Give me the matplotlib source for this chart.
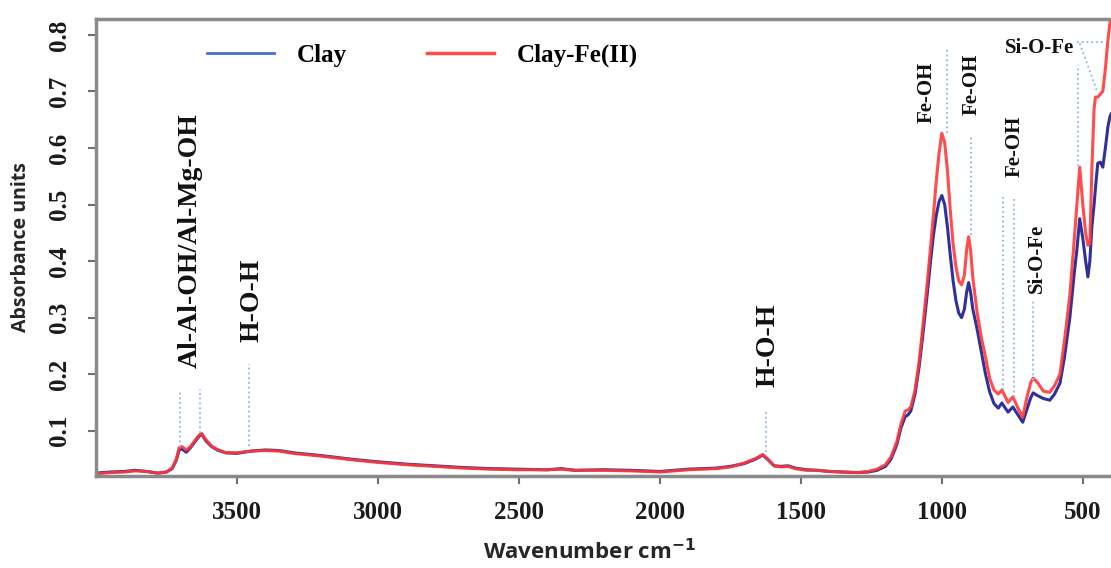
import matplotlib.pyplot as plt
import numpy as np

# FTIR spectra (wavenumber in cm-1, absorbance)
wavenumber = [4000, 3950, 3900, 3860, 3820, 3780, 3750, 3730, 3715, 3705,
              3695, 3680, 3665, 3650, 3635, 3625, 3610, 3590, 3570, 3540,
              3500, 3450, 3400, 3350, 3300, 3200, 3100, 3000, 2900, 2800,
              2700, 2600, 2500, 2400, 2350, 2300, 2200, 2100, 2000, 1950,
              1900, 1800, 1750, 1700, 1660, 1635, 1615, 1595, 1570, 1545,
              1520, 1480, 1440, 1400, 1350, 1300, 1260, 1230, 1200, 1180,
              1160, 1145, 1130, 1120, 1110, 1095, 1080, 1065, 1050, 1040,
              1030, 1020, 1010, 1000, 990, 980, 970, 960, 950, 940,
              930, 920, 912, 905, 898, 890, 875, 860, 845, 830,
              815, 800, 787, 775, 765, 748, 730, 713, 700, 685,
              676, 660, 640, 617, 600, 581, 565, 546, 530, 521,
              511, 500, 490, 482, 475, 468, 460, 455, 447, 438,
              429, 420, 411, 404, 400]
clay = [0.025, 0.027, 0.028, 0.030, 0.028, 0.025, 0.027, 0.033, 0.048, 0.066,
        0.068, 0.062, 0.070, 0.080, 0.090, 0.094, 0.082, 0.072, 0.066, 0.061,
        0.060, 0.064, 0.066, 0.065, 0.061, 0.056, 0.050, 0.045, 0.041, 0.038,
        0.035, 0.033, 0.032, 0.031, 0.033, 0.030, 0.031, 0.030, 0.028, 0.030,
        0.032, 0.034, 0.037, 0.042, 0.050, 0.057, 0.048, 0.038, 0.037, 0.038,
        0.034, 0.031, 0.030, 0.028, 0.027, 0.026, 0.027, 0.030, 0.037, 0.050,
        0.075, 0.105, 0.125, 0.128, 0.135, 0.165, 0.215, 0.280, 0.350, 0.400,
        0.445, 0.480, 0.505, 0.516, 0.500, 0.460, 0.410, 0.365, 0.330, 0.308,
        0.300, 0.315, 0.345, 0.362, 0.345, 0.315, 0.280, 0.240, 0.200, 0.168,
        0.148, 0.140, 0.149, 0.140, 0.133, 0.142, 0.128, 0.115, 0.135, 0.158,
        0.167, 0.162, 0.157, 0.154, 0.165, 0.184, 0.230, 0.300, 0.380, 0.420,
        0.475, 0.440, 0.400, 0.372, 0.400, 0.460, 0.500, 0.530, 0.573, 0.575,
        0.566, 0.600, 0.637, 0.655, 0.660]
clay_fe = [0.024, 0.026, 0.027, 0.029, 0.028, 0.025, 0.027, 0.034, 0.050, 0.070,
           0.072, 0.066, 0.072, 0.082, 0.092, 0.095, 0.084, 0.073, 0.067, 0.061,
           0.061, 0.064, 0.065, 0.064, 0.060, 0.055, 0.049, 0.044, 0.040, 0.037,
           0.034, 0.032, 0.031, 0.031, 0.032, 0.030, 0.030, 0.029, 0.027, 0.029,
           0.031, 0.033, 0.036, 0.043, 0.051, 0.058, 0.049, 0.038, 0.036, 0.037,
           0.033, 0.030, 0.030, 0.028, 0.027, 0.026, 0.028, 0.032, 0.040, 0.054,
           0.080, 0.112, 0.135, 0.137, 0.142, 0.172, 0.225, 0.295, 0.370, 0.425,
           0.480, 0.540, 0.590, 0.626, 0.610, 0.560, 0.490, 0.430, 0.390, 0.365,
           0.358, 0.375, 0.420, 0.443, 0.420, 0.370, 0.310, 0.265, 0.230, 0.192,
           0.172, 0.165, 0.172, 0.160, 0.150, 0.160, 0.140, 0.124, 0.155, 0.185,
           0.193, 0.185, 0.170, 0.168, 0.180, 0.200, 0.260, 0.340, 0.440, 0.500,
           0.566, 0.500, 0.450, 0.428, 0.430, 0.560, 0.670, 0.690, 0.690, 0.695,
           0.700, 0.740, 0.790, 0.820, 0.850]

# band assignments: (wavenumber, line bottom, line top)
band_lines = [(3702, 0.071, 0.172), (3631, 0.096, 0.174), (3458, 0.073, 0.218),
              (1624, 0.062, 0.138), (982, 0.626, 0.773), (897, 0.446, 0.622),
              (784, 0.172, 0.513), (745, 0.160, 0.513), (677, 0.190, 0.331),
              (518, 0.569, 0.746)]

serif = ['Liberation Serif', 'DejaVu Serif']
sans = ['Open Sans', 'DejaVu Sans']

fig = plt.figure(figsize=(11.11, 5.68), dpi=100)
ax = fig.add_axes([0.0864, 0.162, 0.9136, 0.8045])

ax.plot(wavenumber, clay, color='#30309a', lw=2.2, label='Clay')
ax.plot(wavenumber, clay_fe, color='#ff3838', lw=2.2, alpha=0.9, label='Clay-Fe(II)')

# dotted marker lines
for wn, y0, y1 in band_lines:
    ax.plot([wn, wn], [y0, y1], color='#8fb8e0', lw=1.3, ls=':')
ax.plot([522, 422], [0.787, 0.787], color='#8fb8e0', lw=1.3, ls=':')
ax.plot([511, 447], [0.785, 0.697], color='#8fb8e0', lw=1.3, ls=':')

big = dict(rotation=90, ha='center', va='bottom', fontsize=20,
           fontweight='bold', family=serif, color='#111111')
small = dict(big, fontsize=15)
ax.text(3667, 0.211, 'Al-Al-OH/Al-Mg-OH', **big)
ax.text(3447, 0.257, 'H-O-H', **big)
ax.text(1617, 0.177, 'H-O-H', **big)
ax.text(1053, 0.645, 'Fe-OH', **small)
ax.text(894, 0.658, 'Fe-OH', **small)
ax.text(741, 0.548, 'Fe-OH', **small)
ax.text(663, 0.343, 'Si-O-Fe', **small)
ax.text(652, 0.776, 'Si-O-Fe', ha='center', va='center', fontsize=15,
        fontweight='bold', family=serif, color='#111111')

ax.set_xlim(4000, 400)
ax.set_ylim(0.02, 0.828)
ax.set_xticks([3500, 3000, 2500, 2000, 1500, 1000, 500])
ax.set_yticks([0.1, 0.2, 0.3, 0.4, 0.5, 0.6, 0.7, 0.8])
ax.set_yticklabels(['0.1', '0.2', '0.3', '0.4', '0.5', '0.6', '0.7', '0.8'],
                   rotation=90, va='center')

for lab in ax.get_xticklabels() + ax.get_yticklabels():
    lab.set_family(serif)
    lab.set_fontweight('bold')
    lab.set_fontsize(18)
    lab.set_color('#1a1a1a')

ax.tick_params(axis='both', direction='out', length=6, width=1.5, color='#707070')
ax.tick_params(axis='x', pad=12)
ax.tick_params(axis='y', pad=12)

for side in ['left', 'bottom', 'top']:
    ax.spines[side].set_color('#8a8a8a')
    ax.spines[side].set_linewidth(2.5)
ax.spines['right'].set_visible(False)

ax.set_xlabel('Wavenumber cm$^{\\mathbf{-1}}$', family=sans, fontweight='bold',
              fontsize=16, color='#262626')
ax.xaxis.set_label_coords(0.486, -0.138)
ax.set_ylabel('Absorbance units', family=sans, fontweight='bold',
              fontsize=14, color='#262626', labelpad=12)

leg = ax.legend(loc='upper left', bbox_to_anchor=(0.087, 0.995), ncol=2, frameon=False,
                handlelength=2.7, handletextpad=0.9, columnspacing=3.2,
                prop={'family': serif, 'weight': 'bold', 'size': 18})
leg.get_lines()[0].set_color('#4472c4')
leg.get_lines()[0].set_linewidth(2.0)
leg.get_lines()[1].set_linewidth(2.5)

plt.savefig('out.png', dpi=100)
